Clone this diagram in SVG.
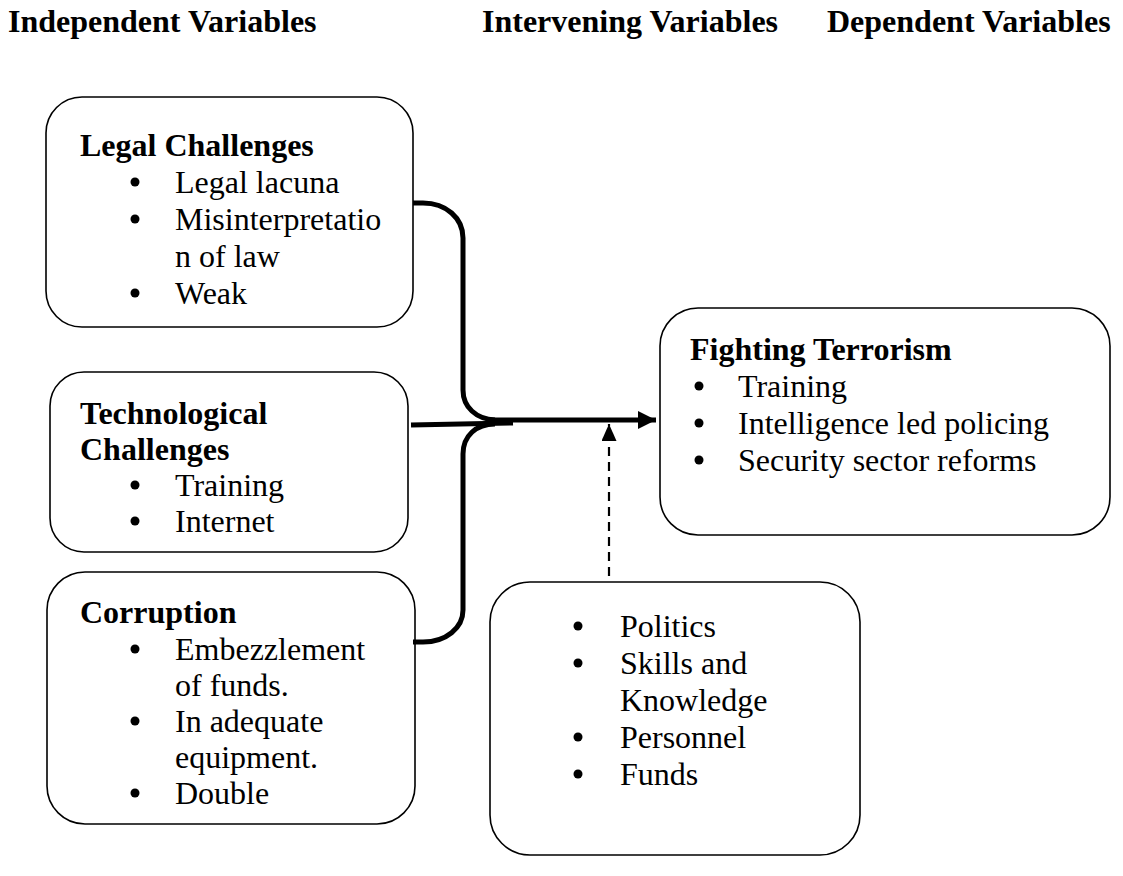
<svg xmlns="http://www.w3.org/2000/svg" width="1123" height="876" viewBox="0 0 1123 876">
<style>
  text { font-family: "Liberation Serif", "Times New Roman", serif; font-size: 32px; fill: #000; }
  .b { font-weight: bold; }
  .box { fill: #fff; stroke: #000; stroke-width: 1.6; }
  .dot { fill: #000; }
  .thick { fill: none; stroke: #000; stroke-width: 5; }
  .dash { fill: none; stroke: #000; stroke-width: 2.2; stroke-dasharray: 9 6; }
</style>
<defs>
  <marker id="ah" markerUnits="userSpaceOnUse" markerWidth="20" markerHeight="20" refX="18" refY="9" orient="auto">
    <path d="M0,0 L18,9 L0,18 Z" fill="#000"/>
  </marker>
  <marker id="ah2" markerUnits="userSpaceOnUse" markerWidth="18" markerHeight="16" refX="17" refY="7.5" orient="auto">
    <path d="M0,0 L17,7.5 L0,15 Z" fill="#000"/>
  </marker>
</defs>
<rect width="1123" height="876" fill="#fff"/>
<g id="headers">
  <text class="b" x="8" y="32">Independent Variables</text>
  <text class="b" x="482" y="32">Intervening Variables</text>
  <text class="b" x="827" y="32">Dependent Variables</text>
</g>
<g id="legal">
  <rect class="box" x="46" y="97" width="367" height="230" rx="36" ry="36"/>
  <text class="b" x="80" y="156">Legal Challenges</text>
  <circle class="dot" cx="135" cy="182" r="4.5"/>
  <text x="175" y="193">Legal lacuna</text>
  <circle class="dot" cx="135" cy="219" r="4.5"/>
  <text x="175" y="230">Misinterpretatio</text>
  <text x="175" y="267">n of law</text>
  <circle class="dot" cx="135" cy="293" r="4.5"/>
  <text x="175" y="304">Weak</text>
</g>
<g id="tech">
  <rect class="box" x="50" y="372" width="358" height="180" rx="34" ry="34"/>
  <text class="b" x="80" y="424">Technological</text>
  <text class="b" x="80" y="460">Challenges</text>
  <circle class="dot" cx="135" cy="485" r="4.5"/>
  <text x="175" y="496">Training</text>
  <circle class="dot" cx="135" cy="521" r="4.5"/>
  <text x="175" y="532">Internet</text>
</g>
<g id="corruption">
  <rect class="box" x="47" y="572" width="368" height="252" rx="38" ry="38"/>
  <text class="b" x="80" y="623">Corruption</text>
  <circle class="dot" cx="135" cy="649" r="4.5"/>
  <text x="175" y="660">Embezzlement</text>
  <text x="175" y="696">of funds.</text>
  <circle class="dot" cx="135" cy="721" r="4.5"/>
  <text x="175" y="732">In adequate</text>
  <text x="175" y="768">equipment.</text>
  <circle class="dot" cx="135" cy="793" r="4.5"/>
  <text x="175" y="804">Double</text>
</g>
<g id="fighting">
  <rect class="box" x="660" y="308" width="450" height="227" rx="38" ry="38"/>
  <text class="b" x="690" y="360">Fighting Terrorism</text>
  <circle class="dot" cx="699" cy="386" r="4.5"/>
  <text x="738" y="397">Training</text>
  <circle class="dot" cx="699" cy="423" r="4.5"/>
  <text x="738" y="434">Intelligence led policing</text>
  <circle class="dot" cx="699" cy="460" r="4.5"/>
  <text x="738" y="471">Security sector reforms</text>
</g>
<g id="intervening">
  <rect class="box" x="490" y="582" width="370" height="273" rx="40" ry="40"/>
  <circle class="dot" cx="578" cy="626" r="4.5"/>
  <text x="620" y="637">Politics</text>
  <circle class="dot" cx="578" cy="663" r="4.5"/>
  <text x="620" y="674">Skills and</text>
  <text x="620" y="711">Knowledge</text>
  <circle class="dot" cx="578" cy="737" r="4.5"/>
  <text x="620" y="748">Personnel</text>
  <circle class="dot" cx="578" cy="774" r="4.5"/>
  <text x="620" y="785">Funds</text>
</g>
<g id="connectors">
  <path class="thick" d="M413,203 L423,203 C446,203 463,218 463,238 L463,390 C463,407 476,419 495,420"/>
  <path class="thick" d="M495,424 C476,424 463,436 463,454 L463,610 C463,628 446,642 423,642 L413,642"/>
  <line class="thick" x1="411" y1="425" x2="513" y2="423"/>
  <line class="thick" x1="490" y1="420" x2="656" y2="420" marker-end="url(#ah)"/>
  <line class="dash" x1="609" y1="576" x2="609" y2="424" marker-end="url(#ah2)"/>
</g>
</svg>
